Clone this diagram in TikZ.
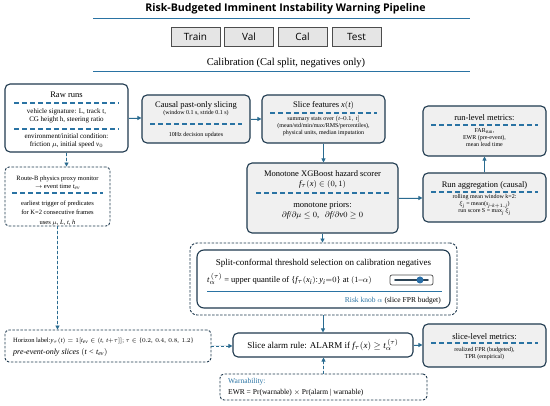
\documentclass[tikz,border=0pt]{standalone}
\usepackage{fontspec}
\setmainfont{Liberation Serif}
\newfontfamily\headfont{Open Sans}
\usepackage[italic]{mathastext}
\usetikzlibrary{arrows.meta}
\definecolor{navy}{HTML}{1F3A4F}
\definecolor{dashblue}{HTML}{2A73A3}
\definecolor{arrowblue}{HTML}{2A6B90}
\definecolor{boxgray}{HTML}{F0F0F0}
\definecolor{knobblue}{HTML}{2A6FA8}
\definecolor{rulegray}{HTML}{4D4D4D}

\begin{document}
\begin{tikzpicture}[x=1pt,y=-1pt,>={Triangle[length=4pt,width=4pt]},
  box/.style={draw=navy,line width=1.1pt,rounded corners=5pt,fill=white,inner sep=0pt},
  gbox/.style={box,fill=boxgray},
  dbox/.style={draw=navy,line width=0.9pt,dash pattern=on 2.5pt off 1.5pt,rounded corners=4pt,fill=white,inner sep=0pt},
  split/.style={draw=rulegray,line width=0.8pt,fill=boxgray!90!gray,minimum width=49pt,minimum height=19pt,font=\headfont\fontsize{10}{11}\selectfont},
  sep/.style={draw=dashblue,line width=1.1pt,dash pattern=on 5pt off 3pt},
  arr/.style={->,draw=arrowblue,fill=arrowblue,line width=0.9pt},
  darr/.style={arr,dash pattern=on 3pt off 2pt},
  big/.style={inner sep=0pt,align=center,font=\fontsize{8.5}{9.5}\selectfont},
  med/.style={inner sep=0pt,align=center,font=\fontsize{7}{7.5}\selectfont},
  sml/.style={inner sep=0pt,align=center,font=\fontsize{6}{7}\selectfont}]
\path[fill=white] (0,0) rectangle (550,406);
\useasboundingbox (0,0) rectangle (550,406);

% header
\node[inner sep=0pt,font=\headfont\bfseries\fontsize{10.6}{12}\selectfont] (title) at (285.5,9) {Risk-Budgeted Imminent Instability Warning Pipeline};
\draw[dashblue,line width=1pt] (93,19) -- (470,19);
\foreach \n/\x in {Train/195.5,Val/249,Cal/302.5,Test/356.5}
  \node[split] (\n) at (\x,36.5) {\n};
\node[inner sep=0pt,font=\fontsize{10.5}{12}\selectfont] (calib) at (286,63) {Calibration (Cal split, negatives only)};
\draw[dashblue,line width=1pt] (93,72) -- (470,72);

% raw runs
\node[box,minimum width=123pt,minimum height=68pt] (raw) at (66.5,118) {};
\node[big] (rawT) at (66.5,95) {Raw runs};
\draw[sep] (14,103) -- (119,103);
\node[med] (rawV) at (66.5,115.75) {vehicle signature: L, track t,\\CG height h, steering ratio};
\draw[sep] (14,129) -- (119,129);
\node[med] (rawE) at (66.5,140.75) {environment/initial condition:\\friction $\mu$, initial speed $v_0$};

% slicing
\node[gbox,minimum width=108pt,minimum height=48pt] (causal) at (196,119) {};
\node[big] (causalT) at (196,105) {Causal past-only slicing};
\node[sml] (causalS) at (196,113) {(window 0.1 s, stride 0.1 s)};
\draw[sep] (150,124) -- (242,124);
\node[sml] (causalU) at (196,135) {10Hz decision updates};

% features
\node[gbox,minimum width=123pt,minimum height=48pt] (feat) at (323.5,119) {};
\node[big] (featT) at (323.5,106) {Slice features $x(t)$};
\draw[sep] (270,113) -- (377,113);
\node[sml] (featS) at (323.5,126.3) {summary stats over $(t{-}0.1,\,t]$\\(mean/std/min/max/RMS/percentiles),\\physical units, median imputation};

% scorer
\node[gbox,minimum width=151pt,minimum height=70pt] (mono) at (322.5,198) {};
\node[big] (monoT) at (322.5,179.5) {Monotone XGBoost hazard scorer\\$f_\tau(x)\in(0,1)$};
\draw[sep] (256,193) -- (390,193);
\node[big] (monoP) at (322.5,210.5) {monotone priors:\\$\partial f/\partial\mu\le 0,\ \ \partial f/\partial v0\ge 0$};

% run aggregation
\node[gbox,minimum width=123pt,minimum height=49pt] (agg) at (484.5,197.5) {};
\node[big] (aggT) at (484.5,185) {Run aggregation (causal)};
\draw[sep] (431,192) -- (538,192);
\node[sml] (aggS) at (484.5,205) {rolling mean window k=2:\\$\xi_j$ = mean($s_{j-k+1..j}$)\\run score S = max$_j$ $\xi_j$};

% run-level metrics
\node[gbox,minimum width=123pt,minimum height=50pt] (runm) at (484.5,131) {};
\node[big] (runmT) at (484.5,118) {run-level metrics:};
\draw[sep] (431,125) -- (538,125);
\node[sml] (runmS) at (484.5,138) {FAR$_{\mathrm{run}}$,\\EWR (pre-event),\\mean lead time};

% event monitor
\node[dbox,minimum width=105pt,minimum height=59pt] (route) at (57.5,196.5) {};
\node[med,font=\fontsize{6.5}{8}\selectfont] (routeT) at (57.5,182.5) {Route-B physics proxy monitor\\$\to$ event time $t_{ev}$};
\draw[sep] (12,193) -- (103,193);
\node[med,font=\fontsize{6.5}{9.5}\selectfont] (routeS) at (57.5,213) {earliest trigger of predicates\\for K=2 consecutive frames\\uses $\mu$, $L$, $t$, $h$};

% conformal threshold
\node[dbox,rounded corners=7pt,minimum width=267pt,minimum height=72pt] (confo) at (323.5,279) {};
\node[box,rounded corners=7pt,minimum width=253pt,minimum height=58pt] (confi) at (323.5,279) {};
\node[big,font=\fontsize{9}{10}\selectfont] (confT) at (323.5,263) {Split-conformal threshold selection on calibration negatives};
\node[big,anchor=west] (confQ) at (207,279) {$t_\alpha^{\,(\tau)}$ = upper quantile of $\{f_\tau(x_i)\colon y_i{=}0\}$ at $(1{-}\alpha)$};
\draw[rulegray,line width=0.7pt,rounded corners=2pt,fill=white] (390,275) rectangle (433,285);
\draw[navy!85!gray,line width=1.6pt,line cap=round] (395,280) -- (428,280);
\fill[knobblue] (420,280) circle (3.5pt);
\draw[dashblue,line width=1pt] (207,292) -- (442,292);
\node[med,font=\fontsize{7.5}{9}\selectfont,anchor=east] (knob) at (441,301) {\textcolor{dashblue}{Risk knob $\alpha$} (slice FPR budget)};

% alarm rule
\node[box,minimum width=180pt,minimum height=24pt] (alarm) at (323,345) {};
\node[big,font=\fontsize{9}{10}\selectfont] (alarmT) at (323,345) {Slice alarm rule: ALARM if $f_\tau(x)\ge t_\alpha^{\,(\tau)}$};

% slice-level metrics
\node[gbox,minimum width=123pt,minimum height=43pt] (slm) at (484.5,345.5) {};
\node[big] (slmT) at (484.5,337) {slice-level metrics:};
\draw[sep] (431,343) -- (538,343);
\node[sml] (slmS) at (484.5,353.5) {realized FPR (budgeted),\\TPR (empirical)};

% horizon label
\node[dbox,minimum width=206pt,minimum height=32pt] (horiz) at (108,346) {};
\node[med,font=\fontsize{6.5}{8}\selectfont,anchor=west] (horizL) at (13,341) {Horizon label:$y_\tau(t) = 1[t_{ev}\in(t,\,t{+}\tau]];\tau\in\{0.2,\,0.4,\,0.8,\,1.2\}$};
\node[med,font=\itshape\fontsize{8}{9}\selectfont,anchor=west] (horizP) at (13,353) {pre-event-only slices $(t<t_{ev})$};

% warnability
\node[dbox,minimum width=207pt,minimum height=26pt] (warn) at (323.5,387) {};
\node[med,font=\fontsize{7.5}{9}\selectfont,anchor=west] (warnT) at (228,382) {\textcolor{dashblue}{Warnability:}};
\node[med,font=\fontsize{7.5}{9}\selectfont,anchor=west] (warnE) at (228,393) {EWR = Pr(warnable) $\times$ Pr(alarm $|$ warnable)};

% connectors
\draw[arr] (raw.east) -- (raw.east -| causal.west);
\draw[arr] (causal.east) -- (feat.west);
\draw[arr] (feat.south) -- (feat.south |- mono.north);
\draw[arr] (mono.east) -- (mono.east -| agg.west);
\draw[arr] (agg.north) -- (runm.south);
\draw[arr] (mono.south) -- (mono.south |- confo.north);
\draw[arr] (alarm.north |- confo.south) -- (alarm.north);
\draw[arr] (alarm.east) -- (alarm.east -| slm.west);
\draw[darr] (warn.north) -- (warn.north |- alarm.south);
\draw[darr] (horiz.east) -- (horiz.east -| alarm.west);
\draw[darr] (raw.south) -- (raw.south |- route.north);
\draw[darr] (route.south) -- (route.south |- horiz.north);
\end{tikzpicture}
\end{document}
